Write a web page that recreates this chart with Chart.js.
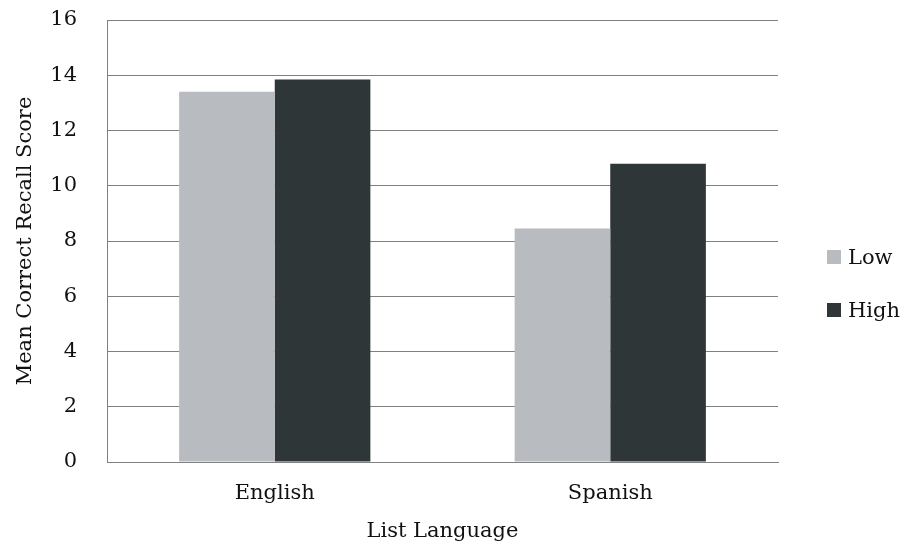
<!DOCTYPE html>
<html>
<head>
<meta charset="utf-8">
<script src="https://cdn.jsdelivr.net/npm/chart.js@4.4.1/dist/chart.umd.min.js"></script>
<style>
  html, body { margin: 0; padding: 0; background: #fff; }
  #wrap { position: relative; width: 905px; height: 550px; }
  #legend { position: absolute; left: 827px; top: 244px; font-family: "DejaVu Serif", serif; font-size: 21px; color: #111; }
  #legend .item { display: flex; align-items: center; height: 26px; margin-bottom: 27px; }
  #legend .box { width: 14px; height: 14px; margin-right: 7px; }
</style>
</head>
<body>
<div id="wrap">
  <canvas id="c" width="905" height="550"></canvas>
  <div id="legend"></div>
</div>
<script>
// List language categories and mean recall per proficiency group
const categories = ["English", "Spanish"];
const seriesNames = ["Low", "High"];
const lowScores = [13.4, 8.45];
const highScores = [13.85, 10.8];
const yTicks = [0, 2, 4, 6, 8, 10, 12, 14, 16];
const colors = ["#b8bbbf", "#2f3638"];

const FONT = "DejaVu Serif";
const TEXT = "#111";

const chart = new Chart(document.getElementById("c"), {
  type: "bar",
  data: {
    labels: categories,
    datasets: [
      { label: seriesNames[0], data: lowScores, backgroundColor: colors[0] },
      { label: seriesNames[1], data: highScores, backgroundColor: colors[1] }
    ]
  },
  options: {
    responsive: false,
    animation: false,
    layout: { padding: { top: 20, right: 127, left: 0, bottom: 0 } },
    plugins: { legend: { display: false }, tooltip: { enabled: false } },
    datasets: { bar: { barPercentage: 1.0, categoryPercentage: 0.57 } },
    scales: {
      x: {
        grid: { display: false, drawTicks: false },
        border: { display: true, color: "#808080", width: 1 },
        ticks: { color: TEXT, font: { family: FONT, size: 21 }, padding: 19 },
        title: { display: true, text: "List Language", color: TEXT, font: { family: FONT, size: 21 }, padding: { top: 8, bottom: 6 } },
        afterFit(scale) { scale.height = 88; }
      },
      y: {
        min: 0, max: 16,
        afterBuildTicks(scale) { scale.ticks = yTicks.map(v => ({ value: v })); },
        grid: { color: "#808080", lineWidth: 1, drawTicks: false },
        border: { display: true, color: "#808080", width: 1 },
        ticks: { color: TEXT, font: { family: FONT, size: 21 }, padding: 30 },
        title: { display: true, text: "Mean Correct Recall Score", color: TEXT, font: { family: FONT, size: 21 }, padding: { top: 13, bottom: 0 } },
        afterFit(scale) {
          scale.width = 107;
          scale.paddingTop = 0;
          scale.paddingBottom = 0;
        }
      }
    }
  }
});

// Legend built from the chart's own datasets
const legend = document.getElementById("legend");
chart.data.datasets.forEach(ds => {
  const item = document.createElement("div");
  item.className = "item";
  const box = document.createElement("span");
  box.className = "box";
  box.style.background = ds.backgroundColor;
  const txt = document.createElement("span");
  txt.textContent = ds.label;
  item.appendChild(box);
  item.appendChild(txt);
  legend.appendChild(item);
});
</script>
</body>
</html>
